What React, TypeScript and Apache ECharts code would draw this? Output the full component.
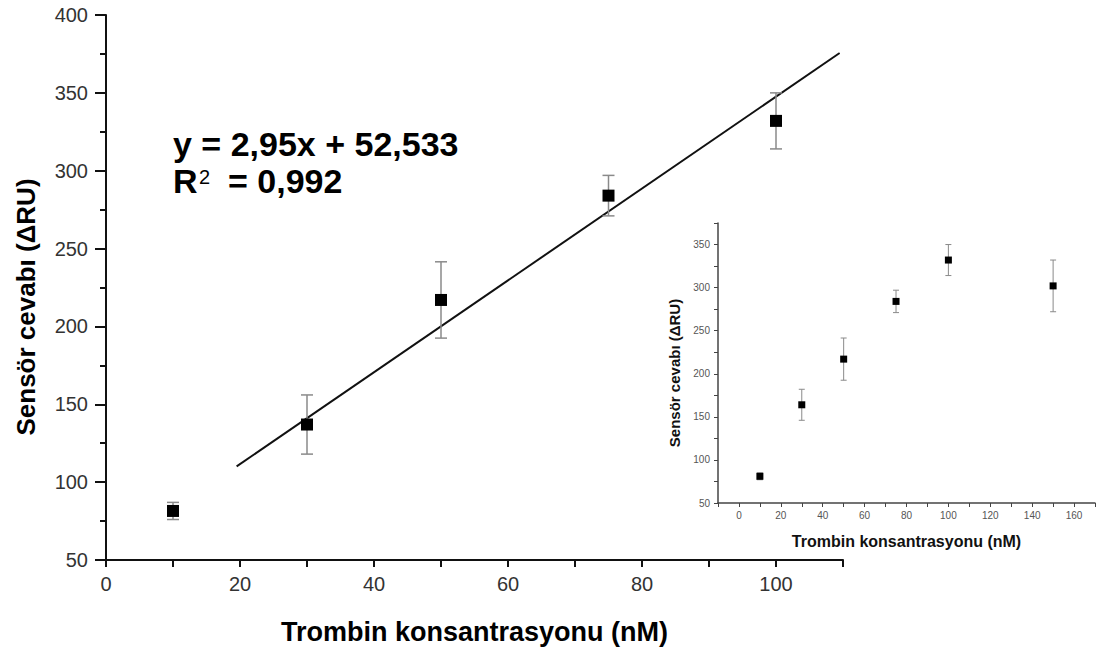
import React, { useEffect, useRef } from "react";
import * as echarts from "echarts";

// Main panel (linear range)
const concMain = [10, 30, 50, 75, 100];
const respMain = [81.5, 137, 217, 284, 332];
const errMain = [5.5, 19, 24.5, 13, 18];

// Inset panel (full range)
const concInset = [10, 30, 50, 75, 100, 150];
const respInset = [81, 164, 217, 284, 332, 302];
const errInset = [4, 18, 24.5, 13, 18, 30];

// Fitted regression line end points
const fitX = [19.5, 109.5];
const fitY = [110.1, 375.6];

const equationText = "y = 2,95x + 52,533";
const r2Value = "= 0,992";

const xName = "Trombin konsantrasyonu (nM)";
const yName = "Sensör cevabı (ΔRU)";

const FONT = 'Arial, "Liberation Sans", sans-serif';

function errorSeries(axisIdx: number, xs: number[], ys: number[], es: number[], cap: number, width: number) {
  return {
    type: "custom",
    xAxisIndex: axisIdx,
    yAxisIndex: axisIdx,
    z: 2,
    data: xs.map((v, i) => [v, ys[i] - es[i], ys[i] + es[i]]),
    encode: { x: 0, y: [1, 2] },
    renderItem: (_p: any, api: any) => {
      const lo = api.coord([api.value(0), api.value(1)]);
      const hi = api.coord([api.value(0), api.value(2)]);
      const style = { stroke: "#8a8a8a", lineWidth: width };
      return {
        type: "group",
        children: [
          { type: "line", shape: { x1: lo[0], y1: lo[1], x2: hi[0], y2: hi[1] }, style },
          { type: "line", shape: { x1: lo[0] - cap, y1: lo[1], x2: lo[0] + cap, y2: lo[1] }, style },
          { type: "line", shape: { x1: hi[0] - cap, y1: hi[1], x2: hi[0] + cap, y2: hi[1] }, style },
        ],
      };
    },
  };
}

export default function App() {
  const ref = useRef<HTMLDivElement>(null);
  useEffect(() => {
    if (!ref.current) return;
    const chart = echarts.init(ref.current, undefined, { renderer: "svg" });
    const option: any = {
      animation: false,
      backgroundColor: "#ffffff",
      textStyle: { fontFamily: FONT },
      grid: [
        { left: 106, top: 15, right: 256, bottom: 92 },
        { left: 718, top: 223, right: 4, bottom: 149 },
      ],
      xAxis: [
        {
          gridIndex: 0,
          type: "value",
          min: 0,
          max: 110,
          interval: 10,
          splitLine: { show: false },
          axisLine: { onZero: false, lineStyle: { color: "#111", width: 2 } },
          axisTick: { length: 7, lineStyle: { color: "#111", width: 2 } },
          axisLabel: {
            margin: 14,
            fontSize: 20,
            color: "#333",
            fontFamily: FONT,
            formatter: (v: number) => (v % 20 === 0 && v <= 100 ? String(v) : ""),
          },
          name: xName,
          nameLocation: "middle",
          nameGap: 58,
          nameTextStyle: { fontSize: 27, fontWeight: "bold", color: "#000", fontFamily: FONT },
        },
        {
          gridIndex: 1,
          type: "value",
          min: -10,
          max: 170,
          interval: 10,
          splitLine: { show: false },
          axisLine: { onZero: false, lineStyle: { color: "#444", width: 1.5 } },
          axisTick: { length: 4, lineStyle: { color: "#444", width: 1 } },
          axisLabel: {
            margin: 7,
            fontSize: 10,
            color: "#555",
            fontFamily: FONT,
            formatter: (v: number) => (v % 20 === 0 && v >= 0 && v <= 160 ? String(v) : ""),
          },
          name: xName,
          nameLocation: "middle",
          nameGap: 30,
          nameTextStyle: { fontSize: 16, fontWeight: "bold", color: "#111", fontFamily: FONT },
        },
      ],
      yAxis: [
        {
          gridIndex: 0,
          type: "value",
          min: 50,
          max: 400,
          interval: 50,
          splitLine: { show: false },
          axisLine: { onZero: false, lineStyle: { color: "#111", width: 2 } },
          axisTick: { length: 11, lineStyle: { color: "#111", width: 2 } },
          minorTick: { show: true, splitNumber: 2, length: 6, lineStyle: { color: "#111", width: 2 } },
          minorSplitLine: { show: false },
          axisLabel: { margin: 18, fontSize: 20, color: "#333", fontFamily: FONT },
        },
        {
          gridIndex: 1,
          type: "value",
          min: 50,
          max: 375,
          interval: 25,
          splitLine: { show: false },
          axisLine: { onZero: false, lineStyle: { color: "#444", width: 1.5 } },
          axisTick: { length: 4, lineStyle: { color: "#444", width: 1 } },
          axisLabel: {
            margin: 8,
            fontSize: 10,
            color: "#555",
            fontFamily: FONT,
            formatter: (v: number) => (v % 50 === 0 ? String(v) : ""),
          },
        },
      ],
      series: [
        {
          type: "line",
          xAxisIndex: 0,
          yAxisIndex: 0,
          data: fitX.map((v, i) => [v, fitY[i]]),
          showSymbol: false,
          symbol: "none",
          lineStyle: { color: "#111", width: 2 },
          z: 1,
        },
        errorSeries(0, concMain, respMain, errMain, 6, 1.5),
        {
          type: "scatter",
          xAxisIndex: 0,
          yAxisIndex: 0,
          symbol: "rect",
          symbolSize: 12,
          itemStyle: { color: "#000", opacity: 1 },
          data: concMain.map((v, i) => [v, respMain[i]]),
          z: 3,
        },
        errorSeries(1, concInset, respInset, errInset, 3, 1),
        {
          type: "scatter",
          xAxisIndex: 1,
          yAxisIndex: 1,
          symbol: "rect",
          symbolSize: 7,
          itemStyle: { color: "#000", opacity: 1 },
          data: concInset.map((v, i) => [v, respInset[i]]),
          z: 3,
        },
      ],
      graphic: [
        {
          type: "text",
          x: 26,
          y: 307,
          rotation: Math.PI / 2,
          style: {
            text: yName,
            fontSize: 26,
            fontWeight: "bold",
            fill: "#000",
            fontFamily: FONT,
            align: "center",
            verticalAlign: "middle",
          },
        },
        {
          type: "text",
          x: 674,
          y: 373,
          rotation: Math.PI / 2,
          style: {
            text: yName,
            fontSize: 15,
            fontWeight: "bold",
            fill: "#111",
            fontFamily: FONT,
            align: "center",
            verticalAlign: "middle",
          },
        },
        {
          type: "text",
          left: 173,
          top: 127,
          style: { text: equationText, fontSize: 34, fontWeight: "bold", fill: "#000", fontFamily: FONT },
        },
        {
          type: "text",
          left: 173,
          top: 164,
          style: { text: "R", fontSize: 34, fontWeight: "bold", fill: "#000", fontFamily: FONT },
        },
        {
          type: "text",
          left: 199,
          top: 167,
          style: { text: "2", fontSize: 20, fontWeight: "normal", fill: "#000", fontFamily: FONT },
        },
        {
          type: "text",
          left: 228,
          top: 164,
          style: { text: r2Value, fontSize: 34, fontWeight: "bold", fill: "#000", fontFamily: FONT },
        },
      ],
    };
    chart.setOption(option);
    return () => chart.dispose();
  }, []);
  return (
    <div
      ref={ref}
      style={{ position: "fixed", left: 0, top: 0, width: 1099, height: 652, background: "#fff" }}
    />
  );
}
